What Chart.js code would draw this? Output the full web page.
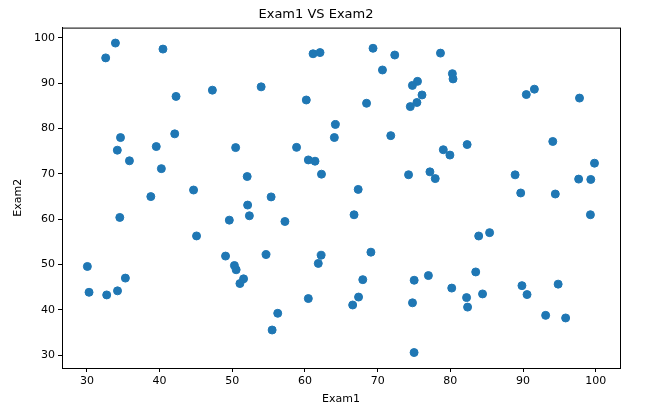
<!DOCTYPE html>
<html>
<head>
<meta charset="utf-8">
<script src="https://cdn.jsdelivr.net/npm/chart.js@4/dist/chart.umd.min.js"></script>
<style>
  html, body { margin: 0; padding: 0; background: #fff; }
  #wrap { width: 661px; height: 417px; }
</style>
</head>
<body>
<div id="wrap"><canvas id="chart" width="661" height="417"></canvas></div>
<script>
// exam scores (x = Exam1, y = Exam2)
const exam1 = [
  34.62, 30.29, 35.85, 60.18, 79.03, 45.08, 61.11, 75.02, 76.10, 84.43,
  95.86, 75.01, 82.31, 69.36, 39.54, 53.97, 69.07, 67.95, 70.66, 76.98,
  67.37, 89.68, 50.53, 34.21, 77.92, 62.27, 80.19, 93.11, 61.83, 38.79,
  61.38, 85.40, 52.11, 52.05, 40.24, 54.64, 33.92, 64.18, 74.79, 34.18,
  83.90, 51.55, 94.44, 82.37, 51.05, 62.22, 77.19, 97.77, 62.07, 91.56,
  79.94, 99.27, 90.55, 34.52, 50.29, 49.59, 97.65, 32.58, 74.25, 71.80,
  75.40, 35.29, 56.25, 30.06, 44.67, 66.56, 40.46, 49.07, 80.28, 66.75,
  32.72, 64.04, 72.35, 60.46, 58.84, 99.83, 47.26, 50.46, 60.46, 82.23,
  88.91, 94.83, 67.32, 57.24, 80.37, 68.47, 42.08, 75.48, 78.64, 52.35,
  94.09, 90.45, 55.48, 74.49, 89.85, 83.49, 42.26, 99.32, 55.34, 74.78
];
const exam2 = [
  78.02, 43.89, 72.90, 86.31, 75.34, 56.32, 96.51, 46.55, 87.42, 43.53,
  38.23, 30.60, 76.48, 97.72, 76.04, 89.21, 52.74, 46.68, 92.93, 47.58,
  42.84, 65.80, 48.86, 44.21, 68.97, 69.95, 44.82, 38.80, 50.26, 65.00,
  72.81, 57.05, 63.13, 69.43, 71.17, 52.21, 98.87, 80.91, 41.57, 75.24,
  56.31, 46.86, 65.57, 40.62, 45.82, 52.06, 70.46, 86.73, 96.77, 88.70,
  74.16, 61.00, 43.39, 60.40, 49.80, 59.81, 68.86, 95.60, 69.82, 78.45,
  85.76, 47.02, 39.26, 49.59, 66.45, 41.09, 97.54, 51.88, 92.12, 60.99,
  43.31, 78.03, 96.23, 73.09, 75.86, 72.37, 88.48, 75.81, 42.51, 42.72,
  69.80, 45.69, 66.59, 59.51, 90.96, 85.59, 78.84, 90.42, 96.65, 60.77,
  77.16, 87.51, 35.57, 84.85, 45.36, 48.38, 87.10, 68.78, 64.93, 89.53
];
const xTicks = [30, 40, 50, 60, 70, 80, 90, 100];
const yTicks = [30, 40, 50, 60, 70, 80, 90, 100];

const points = exam1.map((x, i) => ({ x: x, y: exam2[i] }));
const font = { family: "DejaVu Sans", size: 11 };

// matplotlib-style frame around the plot area
const framePlugin = {
  id: "frame",
  afterDraw(chart) {
    const a = chart.chartArea, ctx = chart.ctx;
    ctx.save();
    ctx.strokeStyle = "#000";
    ctx.lineWidth = 1;
    ctx.strokeRect(a.left + 0.5, a.top + 0.5, a.right - a.left, a.bottom - a.top);
    ctx.restore();
  }
};

Chart.defaults.color = "#000";
Chart.defaults.font.family = "DejaVu Sans";

new Chart(document.getElementById("chart"), {
  type: "scatter",
  data: {
    datasets: [{
      data: points,
      backgroundColor: "#1f77b4",
      borderColor: "#1f77b4",
      borderWidth: 1,
      pointRadius: 4,
      pointHoverRadius: 4
    }]
  },
  options: {
    responsive: false,
    animation: false,
    layout: { padding: { left: 12, right: 41, top: 1, bottom: 11 } },
    plugins: {
      legend: { display: false },
      tooltip: { enabled: false },
      title: {
        display: true,
        text: "Exam1 VS Exam2",
        font: { family: "DejaVu Sans", size: 13, weight: "normal" },
        color: "#000",
        padding: { top: 6, bottom: 5 }
      }
    },
    scales: {
      x: {
        type: "linear",
        min: 26.57, max: 103.34,
        afterBuildTicks: s => { s.ticks = xTicks.map(v => ({ value: v })); },
        afterFit: s => { s.height = 38; },
        ticks: { font: font, color: "#000", padding: 3 },
        grid: { drawOnChartArea: false, drawTicks: true, tickLength: 4, color: "#000" },
        border: { display: true, color: "#000" },
        title: { display: true, text: "Exam1", font: font, color: "#000", padding: 0 }
      },
      y: {
        type: "linear",
        min: 27.19, max: 102.28,
        afterBuildTicks: s => { s.ticks = yTicks.map(v => ({ value: v })); },
        afterFit: s => { s.width = 50; },
        ticks: { font: font, color: "#000", padding: 3 },
        grid: { drawOnChartArea: false, drawTicks: true, tickLength: 4, color: "#000" },
        border: { display: true, color: "#000" },
        title: { display: true, text: "Exam2", font: font, color: "#000", padding: 0 }
      }
    }
  },
  plugins: [framePlugin]
});
</script>
</body>
</html>
